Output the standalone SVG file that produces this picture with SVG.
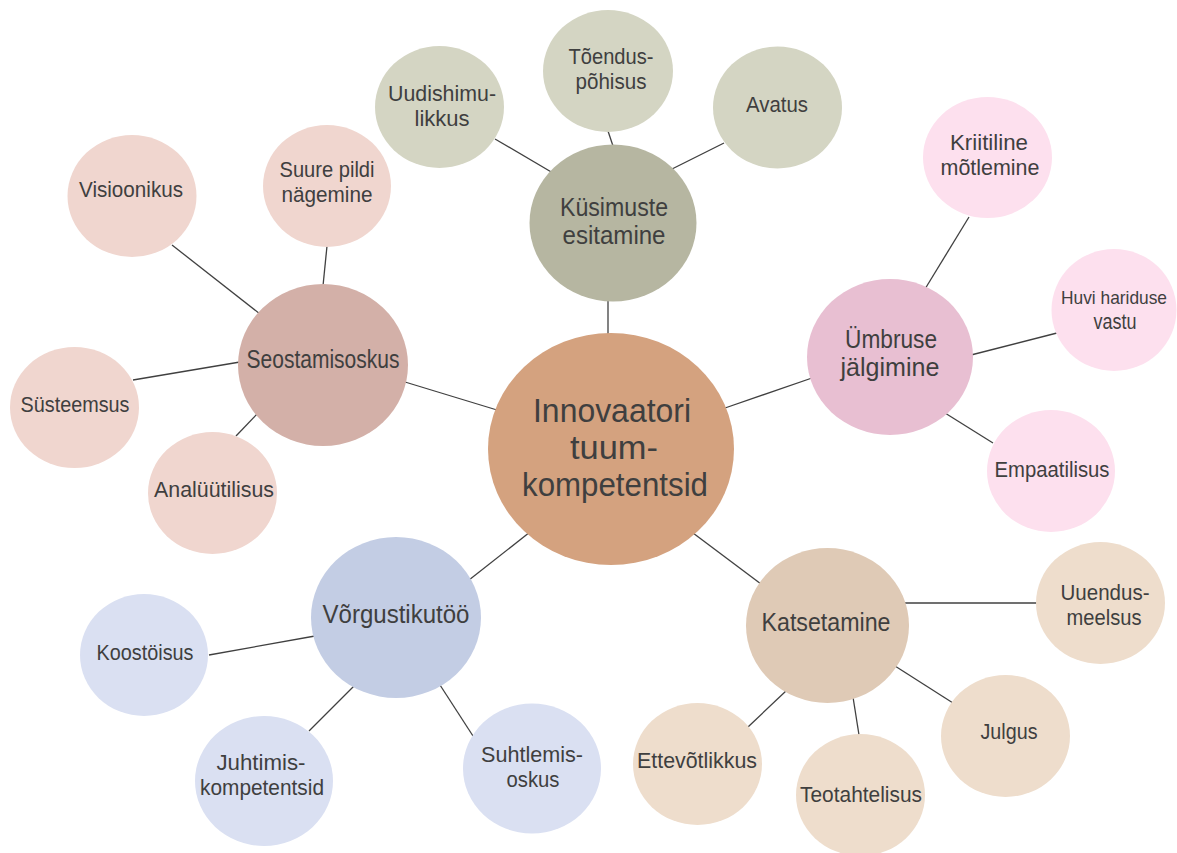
<svg xmlns="http://www.w3.org/2000/svg" width="1177" height="853" viewBox="0 0 1177 853">
  <style>
    .bg { fill: #ffffff; }
    .link { stroke: #404040; stroke-width: 1.3; fill: none; }
    text { font-family: 'Liberation Sans', Arial, sans-serif; fill: #3f3f3f; text-anchor: middle; }
    .t-core { font-size: 33px; }
    .t-main { font-size: 25px; }
    .t-leaf { font-size: 21.5px; }
    .t-tight { font-size: 18.5px; }
    .core { fill: #d4a27f; }
    .q-main { fill: #b6b6a1; }  .q-leaf { fill: #d4d5c3; }
    .s-main { fill: #d3b0a8; }  .s-leaf { fill: #f0d6cf; }
    .u-main { fill: #e8bfd2; }  .u-leaf { fill: #fde0ee; }
    .v-main { fill: #c3cde4; }  .v-leaf { fill: #dae0f2; }
    .k-main { fill: #dfcab6; }  .k-leaf { fill: #eeddcc; }
  </style>

  <rect class="bg" x="0" y="0" width="1177" height="853"/>

  <!-- connectors between hub and branches -->
  <g id="connectors">
    <line class="link" x1="608" y1="300" x2="608" y2="335"/>
    <line class="link" x1="553" y1="173" x2="495" y2="139"/>
    <line class="link" x1="613" y1="146" x2="608" y2="131"/>
    <line class="link" x1="672" y1="169" x2="724" y2="143"/>
    <line class="link" x1="497" y1="410" x2="405" y2="382"/>
    <line class="link" x1="260" y1="314" x2="172" y2="245"/>
    <line class="link" x1="323" y1="286" x2="327" y2="246"/>
    <line class="link" x1="240" y1="362" x2="133" y2="380"/>
    <line class="link" x1="258" y1="413" x2="236" y2="436"/>
    <line class="link" x1="725" y1="408" x2="812" y2="378"/>
    <line class="link" x1="925" y1="289" x2="969" y2="217"/>
    <line class="link" x1="971" y1="355" x2="1057" y2="333"/>
    <line class="link" x1="945" y1="413" x2="993" y2="443"/>
    <line class="link" x1="530" y1="532" x2="469" y2="580"/>
    <line class="link" x1="315" y1="636" x2="209" y2="655"/>
    <line class="link" x1="361" y1="679" x2="309" y2="731"/>
    <line class="link" x1="440" y1="685" x2="473" y2="736"/>
    <line class="link" x1="693" y1="533" x2="761" y2="584"/>
    <line class="link" x1="904" y1="603" x2="1038" y2="603"/>
    <line class="link" x1="895" y1="666" x2="953" y2="703"/>
    <line class="link" x1="853" y1="697" x2="859" y2="735"/>
    <line class="link" x1="787" y1="690" x2="748" y2="727"/>
  </g>

  <!-- hub -->
  <g id="node-innovaatori">
    <ellipse class="core" cx="611" cy="449" rx="123" ry="116"/>
    <text class="t-core" x="612" y="422" textLength="158" lengthAdjust="spacingAndGlyphs">Innovaatori</text>
    <text class="t-core" x="614" y="459" textLength="88" lengthAdjust="spacingAndGlyphs">tuum-</text>
    <text class="t-core" x="615" y="496" textLength="186" lengthAdjust="spacingAndGlyphs">kompetentsid</text>
  </g>

  <!-- Küsimuste esitamine branch -->
  <g id="node-kysimuste">
    <ellipse class="q-main" cx="613" cy="223" rx="83.5" ry="78.5"/>
    <text class="t-main" x="614" y="216" textLength="108" lengthAdjust="spacingAndGlyphs">Küsimuste</text>
    <text class="t-main" x="614" y="244" textLength="103" lengthAdjust="spacingAndGlyphs">esitamine</text>
  </g>
  <g id="node-uudishimulikkus">
    <ellipse class="q-leaf" cx="439.5" cy="107" rx="64.5" ry="61"/>
    <text class="t-leaf" x="442" y="101" textLength="108" lengthAdjust="spacingAndGlyphs">Uudishimu-</text>
    <text class="t-leaf" x="442" y="126" textLength="55" lengthAdjust="spacingAndGlyphs">likkus</text>
  </g>
  <g id="node-toenduspohisus">
    <ellipse class="q-leaf" cx="608" cy="71" rx="65" ry="61"/>
    <text class="t-leaf" x="611" y="64" textLength="85" lengthAdjust="spacingAndGlyphs">Tõendus-</text>
    <text class="t-leaf" x="611" y="88.5" textLength="71" lengthAdjust="spacingAndGlyphs">põhisus</text>
  </g>
  <g id="node-avatus">
    <ellipse class="q-leaf" cx="777.5" cy="107.5" rx="64.5" ry="61"/>
    <text class="t-leaf" x="777" y="112" textLength="62" lengthAdjust="spacingAndGlyphs">Avatus</text>
  </g>

  <!-- Seostamisoskus branch -->
  <g id="node-seostamisoskus">
    <ellipse class="s-main" cx="323" cy="365" rx="85" ry="81"/>
    <text class="t-main" x="323" y="368" textLength="153" lengthAdjust="spacingAndGlyphs">Seostamisoskus</text>
  </g>
  <g id="node-visioonikus">
    <ellipse class="s-leaf" cx="132" cy="196" rx="64.5" ry="61"/>
    <text class="t-leaf" x="131" y="197" textLength="104" lengthAdjust="spacingAndGlyphs">Visioonikus</text>
  </g>
  <g id="node-suure-pildi">
    <ellipse class="s-leaf" cx="327" cy="186" rx="64" ry="61"/>
    <text class="t-leaf" x="327" y="177" textLength="95" lengthAdjust="spacingAndGlyphs">Suure pildi</text>
    <text class="t-leaf" x="327" y="201.5" textLength="91" lengthAdjust="spacingAndGlyphs">nägemine</text>
  </g>
  <g id="node-systeemsus">
    <ellipse class="s-leaf" cx="74.5" cy="407.5" rx="64.5" ry="60.5"/>
    <text class="t-leaf" x="75" y="412" textLength="109" lengthAdjust="spacingAndGlyphs">Süsteemsus</text>
  </g>
  <g id="node-analyytilisus">
    <ellipse class="s-leaf" cx="212.5" cy="493" rx="64.5" ry="61"/>
    <text class="t-leaf" x="214" y="497" textLength="120" lengthAdjust="spacingAndGlyphs">Analüütilisus</text>
  </g>

  <!-- Ümbruse jälgimine branch -->
  <g id="node-umbruse">
    <ellipse class="u-main" cx="890" cy="357" rx="83" ry="78"/>
    <text class="t-main" x="891" y="348" textLength="92" lengthAdjust="spacingAndGlyphs">Ümbruse</text>
    <text class="t-main" x="890" y="376" textLength="99" lengthAdjust="spacingAndGlyphs">jälgimine</text>
  </g>
  <g id="node-kriitiline">
    <ellipse class="u-leaf" cx="987.5" cy="157.5" rx="64.5" ry="60.5"/>
    <text class="t-leaf" x="989" y="150" textLength="78" lengthAdjust="spacingAndGlyphs">Kriitiline</text>
    <text class="t-leaf" x="990" y="174.5" textLength="99" lengthAdjust="spacingAndGlyphs">mõtlemine</text>
  </g>
  <g id="node-huvi">
    <ellipse class="u-leaf" cx="1114" cy="310" rx="62.5" ry="61"/>
    <text class="t-tight" x="1114" y="304" textLength="106" lengthAdjust="spacingAndGlyphs">Huvi hariduse</text>
    <text class="t-leaf" x="1115" y="329" textLength="43" lengthAdjust="spacingAndGlyphs">vastu</text>
  </g>
  <g id="node-empaatilisus">
    <ellipse class="u-leaf" cx="1051" cy="471" rx="64" ry="61"/>
    <text class="t-leaf" x="1052" y="477" textLength="115" lengthAdjust="spacingAndGlyphs">Empaatilisus</text>
  </g>

  <!-- Võrgustikutöö branch -->
  <g id="node-vorgustikutoo">
    <ellipse class="v-main" cx="396" cy="617.5" rx="85" ry="80.5"/>
    <text class="t-main" x="396" y="623" textLength="147" lengthAdjust="spacingAndGlyphs">Võrgustikutöö</text>
  </g>
  <g id="node-koostoisus">
    <ellipse class="v-leaf" cx="144" cy="655" rx="64" ry="61"/>
    <text class="t-leaf" x="145" y="660" textLength="97" lengthAdjust="spacingAndGlyphs">Koostöisus</text>
  </g>
  <g id="node-juhtimis">
    <ellipse class="v-leaf" cx="264" cy="781" rx="69" ry="65"/>
    <text class="t-leaf" x="261" y="770" textLength="89" lengthAdjust="spacingAndGlyphs">Juhtimis-</text>
    <text class="t-leaf" x="262" y="794.5" textLength="124" lengthAdjust="spacingAndGlyphs">kompetentsid</text>
  </g>
  <g id="node-suhtlemis">
    <ellipse class="v-leaf" cx="532" cy="768.5" rx="69" ry="65"/>
    <text class="t-leaf" x="532" y="762" textLength="102" lengthAdjust="spacingAndGlyphs">Suhtlemis-</text>
    <text class="t-leaf" x="533" y="786.5" textLength="53" lengthAdjust="spacingAndGlyphs">oskus</text>
  </g>

  <!-- Katsetamine branch -->
  <g id="node-katsetamine">
    <ellipse class="k-main" cx="827.5" cy="625.5" rx="81.5" ry="77.5"/>
    <text class="t-main" x="826" y="631" textLength="129" lengthAdjust="spacingAndGlyphs">Katsetamine</text>
  </g>
  <g id="node-uuendusmeelsus">
    <ellipse class="k-leaf" cx="1100.5" cy="603" rx="64.5" ry="61"/>
    <text class="t-leaf" x="1105" y="600" textLength="89" lengthAdjust="spacingAndGlyphs">Uuendus-</text>
    <text class="t-leaf" x="1104" y="624.5" textLength="75" lengthAdjust="spacingAndGlyphs">meelsus</text>
  </g>
  <g id="node-julgus">
    <ellipse class="k-leaf" cx="1005.5" cy="736" rx="64.5" ry="61"/>
    <text class="t-leaf" x="1009" y="739" textLength="57" lengthAdjust="spacingAndGlyphs">Julgus</text>
  </g>
  <g id="node-teotahtelisus">
    <ellipse class="k-leaf" cx="860.5" cy="795" rx="64.5" ry="61"/>
    <text class="t-leaf" x="861" y="802" textLength="122" lengthAdjust="spacingAndGlyphs">Teotahtelisus</text>
  </g>
  <g id="node-ettevotlikkus">
    <ellipse class="k-leaf" cx="697.5" cy="764" rx="64.5" ry="61"/>
    <text class="t-leaf" x="697" y="768" textLength="120" lengthAdjust="spacingAndGlyphs">Ettevõtlikkus</text>
  </g>
</svg>
